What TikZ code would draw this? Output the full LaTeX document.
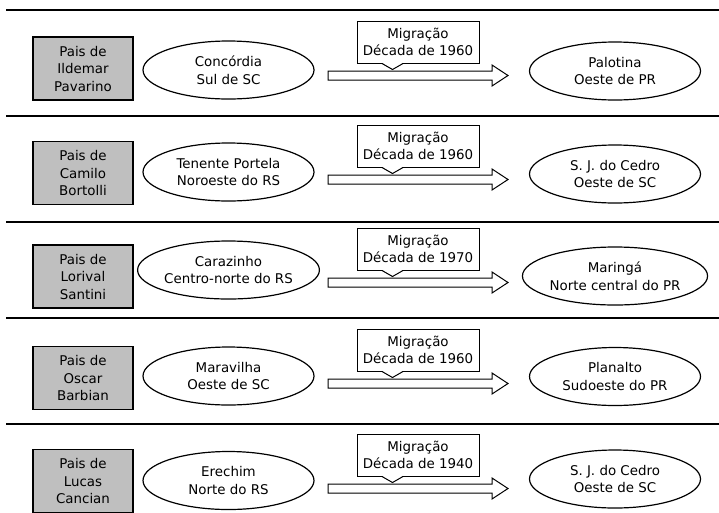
\documentclass[tikz,border=0pt]{standalone}
\usepackage{fontspec}
\setmainfont{DejaVu Sans}
\usetikzlibrary{shapes.geometric}

\tikzset{
  pais/.style={draw, line width=1.2pt, fill=black!25, minimum width=100, minimum height=63, align=center, inner sep=0pt},
  lugar/.style={draw, ellipse, line width=1.2pt, minimum width=171, minimum height=58, align=center, inner sep=0pt},
  nota/.style={draw, line width=1pt, fill=white, minimum width=122, minimum height=42, align=center, inner sep=0pt},
  seta/.style={draw, line width=1pt, fill=white},
  divisa/.style={line width=1.6pt}
}

\begin{document}
\begin{tikzpicture}[x=1pt, y=-1pt, every node/.style={font=\fontsize{13.4}{17.5}\selectfont}]
  \useasboundingbox (0,0) rectangle (719,512);

  % linhas entre as familias
  \foreach \y in {10,116,222,318,424}
    \draw[divisa] (6,\y) -- (719,\y);

  \foreach \i/\yb/\ye/\yd/\ya/\quem/\de/\para/\dec in {
    1/68.5/70/71/75.5/{Ildemar\\Pavarino}/{Concórdia\\Sul de SC}/{Palotina\\Oeste de PR}/1960,
    2/173/172/174/179.5/{Camilo\\Bortolli}/{Tenente Portela\\Noroeste do RS}/{S. J. do Cedro\\Oeste de SC}/1960,
    3/276.5/270/276/282.5/{Lorival\\Santini}/{Carazinho\\Centro-norte do RS}/{Maringá\\Norte central do PR}/1970,
    4/378/376/376.5/383.5/{Oscar\\Barbian}/{Maravilha\\Oeste de SC}/{Planalto\\Sudoeste do PR}/1960,
    5/481/480.5/479/488.5/{Lucas\\Cancian}/{Erechim\\Norte do RS}/{S. J. do Cedro\\Oeste de SC}/1940}{
    \node[pais] (pais\i) at (83,\yb) {Pais de\\\quem};
    \node[lugar] (orig\i) at (228.5,\ye) {\de};
    \node[lugar] (dest\i) at (615,\yd) {\para};
    % seta larga
    \coordinate (s\i) at (328,\ya);
    \draw[seta] (s\i) ++(0,-4.5) -- ++(164,0) -- ++(0,-6) -- ++(16,10.5)
      -- ++(-16,10.5) -- ++(0,-6) -- ++(-164,0) -- cycle;
    % balao
    \node[nota] (mig\i) at (418,{\ya-33.5}) {Migração\\Década de \dec};
    \fill[white] ([xshift=-36,yshift=0.6]mig\i.south) -- ++(10.5,6.6) -- ++(10.5,-6.6) -- cycle;
    \draw[line width=1pt] ([xshift=-36]mig\i.south) -- ++(10.5,6) -- ++(10.5,-6);
  }
\end{tikzpicture}
\end{document}
